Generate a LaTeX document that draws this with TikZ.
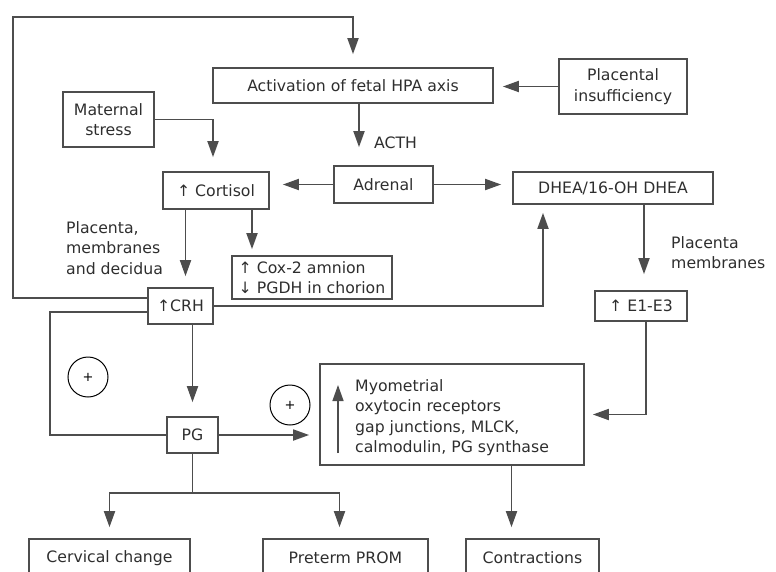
\documentclass[tikz,border=0pt]{standalone}
\usepackage{fontspec}
\setmainfont{DejaVu Sans}
\usetikzlibrary{arrows.meta}

\definecolor{lncol}{HTML}{4D4D4D}
\definecolor{txtcol}{HTML}{2E2E2E}

\begin{document}
\begin{tikzpicture}[x=1pt,y=-1pt,
    box/.style={draw=lncol,line width=1.7pt,text=txtcol,inner sep=2pt,
        font=\fontsize{15.7}{20.5}\selectfont,align=center},
    arr/.style={draw=lncol,line width=1.8pt,-{Triangle[length=16pt,width=11pt]},shorten >=11pt},
    ln/.style={draw=lncol,line width=1.8pt},
    lbl/.style={text=txtcol,inner sep=0pt,font=\fontsize{15.7}{20.5}\selectfont,align=left},
    plus/.style={draw=black,circle,line width=1pt,minimum size=40pt,inner sep=0pt,
        font=\fontsize{13}{13}\selectfont}]
    \useasboundingbox (0,0) rectangle (776,571);
    \clip (0,0) rectangle (776,571);

    % boxes
    \node[box,minimum width=280pt,minimum height=35pt] (act) at (353,85.5) {Activation of fetal HPA axis};
    \node[box,minimum width=91pt,minimum height=55pt] (mat) at (108.5,119.5) {Maternal\\stress};
    \node[box,minimum width=128pt,minimum height=55pt] (plac) at (623,86.5) {Placental\\insufficiency};
    \node[box,minimum width=106pt,minimum height=37pt] (cort) at (216,190.5) {↑ Cortisol};
    \node[box,minimum width=99pt,minimum height=37pt] (adr) at (383.5,184.5) {Adrenal};
    \node[box,minimum width=200pt,minimum height=32pt] (dhea) at (613,188) {DHEA/16-OH DHEA};
    \node[box,minimum width=160pt,minimum height=43pt,align=left] (cox) at (312,277.5) {↑ Cox-2 amnion\\↓ PGDH in chorion};
    \node[box,minimum width=65pt,minimum height=36pt] (crh) at (180.5,306) {↑CRH};
    \node[box,minimum width=92pt,minimum height=30pt] (est) at (641,306) {↑ E1-E3};
    \node[box,minimum width=51pt,minimum height=36pt] (pg) at (192.5,435) {PG};
    \node[box,minimum width=264pt,minimum height=101pt] (myo) at (452,414.5) {};
    \node[box,minimum width=161pt,minimum height=38pt] (cerv) at (109.5,558) {Cervical change};
    \node[box,minimum width=165pt,minimum height=38pt] (prom) at (345.5,558) {Preterm PROM};
    \node[box,minimum width=133pt,minimum height=38pt] (contr) at (532.5,558) {Contractions};

    % texts
    \node[lbl,anchor=north west] (myotxt) at (355,379) {Myometrial\\oxytocin receptors\\gap junctions, MLCK,\\calmodulin, PG synthase};
    \node[lbl,anchor=west] (acth) at (374,143) {ACTH};
    \node[lbl,anchor=north west] (pmd) at (66,221) {Placenta,\\membranes\\and decidua};
    \node[lbl,anchor=north west] (pm) at (671,236) {Placenta\\membranes};
    \node[plus] (plusA) at (88,377) {+};
    \node[plus] (plusB) at (290,405) {+};
    \coordinate (myoS) at (338,453);
    \coordinate (myoN) at (338,385);
    \coordinate (loopL) at (50,435);
    \coordinate (br) at (192.5,493);

    % connectors
    \draw[arr,shorten >=13pt] ([yshift=8pt]crh.west) -| (13,17) -| (act.north);
    \draw[arr,shorten >=14pt] (mat.east) -| ([xshift=-3pt]cort.north);
    \draw[arr,shorten >=18pt] ([xshift=6pt]act.south) -- ([xshift=6pt]act.south |- adr.north);
    \draw[arr,shorten >=13pt] (adr.west) -- (adr.west -| cort.east);
    \draw[arr] (adr.east) -- (adr.east -| dhea.west);
    \draw[arr,shorten >=9pt] (plac.west) -- (plac.west -| act.east);
    \draw[arr] ([xshift=5pt]crh.north |- cort.south) -- ([xshift=5pt]crh.north);
    \draw[arr,shorten >=6pt] ([xshift=36pt]cort.south) -- ([xshift=36pt]cort.south |- cox.north);
    \draw[arr,shorten >=8pt] (crh.east) -| ([xshift=-70pt]dhea.south);
    \draw[arr,shorten >=14pt] (pg.north |- crh.south) -- (pg.north);
    \draw[ln] ([yshift=-6pt]crh.west) -| (loopL) -- (pg.west);
    \draw[arr,shorten >=10pt] (pg.east) -- (pg.east -| myo.west);
    \draw[arr,shorten >=16pt] ([xshift=3pt]est.north |- dhea.south) -- ([xshift=3pt]est.north);
    \draw[arr,shorten >=8pt] ([xshift=5pt]est.south) |- (myo.east);
    \draw[ln] (pg.south) -- (br);
    \draw[arr] (br) -| (cerv.north);
    \draw[arr] (br) -| ([xshift=-6pt]prom.north);
    \draw[arr] ([xshift=-21pt]contr.north |- myo.south) -- ([xshift=-21pt]contr.north);
    \draw[arr,shorten >=0pt,line width=1.4pt] (myoS) -- (myoN);
\end{tikzpicture}
\end{document}
